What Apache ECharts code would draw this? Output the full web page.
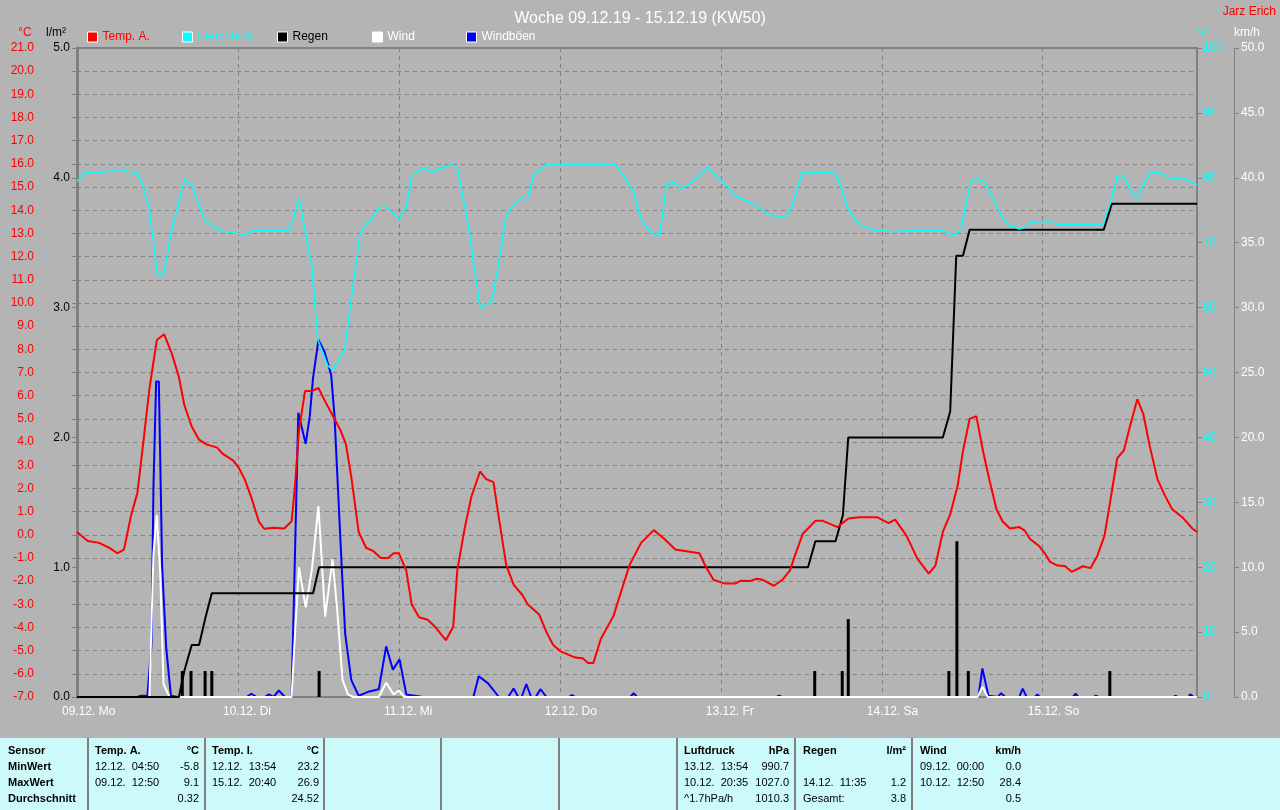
<!DOCTYPE html>
<html><head><meta charset="utf-8">
<script src="https://cdn.jsdelivr.net/npm/echarts@6/dist/echarts.min.js"></script>
<style>html,body{margin:0;padding:0;background:#b4b4b4;}#c{width:1280px;height:810px;}</style>
</head><body><div id="c"></div>
<script>
// ---------- data (hours since 09.12. 00:00) ----------
const dayLabels = ['09.12. Mo','10.12. Di','11.12. Mi','12.12. Do','13.12. Fr','14.12. Sa','15.12. So'];
const tempA = [[0,0.12],[1.6,-0.27],[3.3,-0.35],[4.9,-0.58],[6,-0.8],[7,-0.64],[8.1,0.88],[9,1.8],[9.8,3.76],[10.8,6.3],[11.9,8.4],[13,8.65],[14.1,7.85],[15.2,6.8],[16,5.6],[17.1,4.67],[18.2,4.1],[19.3,3.9],[20.9,3.76],[21.7,3.5],[23.3,3.2],[24.1,2.9],[25,2.4],[26,1.6],[27.1,0.58],[27.9,0.26],[29.3,0.3],[30.9,0.27],[32,0.58],[32.5,2.1],[33.1,4.5],[34,6.2],[35,6.2],[36,6.33],[37.1,5.7],[38.2,5.1],[39.3,4.5],[40.1,3.9],[40.9,2.5],[42,0.12],[43.1,-0.56],[44.2,-0.71],[45.3,-1.0],[46.4,-1.0],[47.2,-0.8],[48,-0.8],[49.1,-1.55],[49.9,-3.0],[51,-3.56],[52.3,-3.67],[53.4,-3.97],[55,-4.55],[56.1,-3.97],[56.7,-1.55],[57.8,0.27],[58.8,1.64],[60.1,2.73],[61,2.4],[62.1,2.27],[62.9,0.73],[64,-1.3],[65.1,-2.15],[66.4,-2.6],[67.2,-3.0],[68.9,-3.44],[70,-4.2],[71,-4.76],[72.1,-5.03],[74.3,-5.3],[75.4,-5.33],[76.2,-5.53],[77,-5.53],[78.1,-4.5],[80,-3.5],[81.3,-2.3],[82.4,-1.3],[84.1,-0.35],[86,0.2],[87.6,-0.18],[89.2,-0.64],[90.9,-0.71],[92.8,-0.8],[93.8,-1.4],[94.9,-1.94],[96.5,-2.1],[98.2,-2.1],[99,-1.98],[100.3,-2.0],[101.4,-1.9],[102.2,-1.94],[103.9,-2.2],[105.2,-1.94],[106.3,-1.55],[107.1,-0.86],[108.2,0.03],[110.1,0.6],[111.2,0.6],[113.4,0.33],[115,0.7],[116.6,0.76],[119.3,0.76],[121,0.5],[122,0.65],[123.7,-0.05],[125.3,-1.03],[127,-1.68],[128,-1.33],[129.1,0.12],[130.2,0.88],[131.3,2.1],[132.1,3.6],[133.1,5.0],[134.1,5.12],[135.1,3.6],[136.1,2.3],[137.1,1.1],[138,0.58],[139.1,0.27],[140.5,0.33],[141.3,0.18],[142.1,-0.18],[143.5,-0.5],[144.3,-0.8],[145.1,-1.17],[146.2,-1.33],[147.3,-1.35],[148.3,-1.6],[150,-1.36],[151.1,-1.44],[152.1,-0.94],[153.2,-0.05],[154,1.33],[155.1,3.3],[156.1,3.64],[157,4.67],[158.1,5.85],[159,5.2],[159.9,3.9],[161.1,2.4],[162.2,1.7],[163.3,1.1],[164.9,0.73],[166.3,0.27],[167,0.12]];
const feuchteA = [[0,79.4],[1.1,80.8],[3.8,80.8],[6,81.3],[7.6,81],[9,80.8],[9.8,78.9],[10.8,75.1],[12,65.1],[12.9,65.1],[14.1,71.8],[16,79.8],[17.1,78.9],[19,73.5],[21.1,71.9],[23.9,71.4],[25.1,71.3],[26.3,71.9],[31.7,71.9],[33.1,76.8],[35,66.4],[35.9,55.1],[37.4,51],[38.2,50.5],[39.9,53.5],[41.2,63.7],[42.2,71.3],[43.1,72.9],[43.9,73.6],[45,75.4],[46.1,75.5],[48,73.6],[49.1,75.6],[49.9,80.2],[51.5,81.5],[53,80.9],[54.5,81.7],[55.9,82],[56.7,81.6],[58.3,72.9],[60.1,59.9],[61.9,61.1],[62.9,67],[64,74.3],[65.9,76.7],[67.1,76.7],[68.1,80.4],[70,82],[80.3,82],[81.9,79.7],[83,77.8],[84.1,73.7],[85.2,71.9],[86,71.3],[86.9,71.3],[87.9,78.9],[89,79.4],[90,78.3],[91.1,78.9],[92.5,79.9],[94,81.7],[95.5,80.2],[96.8,78.9],[98.2,77.2],[100.9,75.9],[102.8,74.6],[104.1,73.9],[105.2,74],[106.2,74.5],[107.1,77.2],[108.1,80.8],[112.5,80.8],[113.4,80.2],[115,75.1],[116.3,73.2],[118.8,71.9],[122,71.7],[123.7,71.9],[129.1,71.9],[131,71.1],[131.9,72.4],[133.2,79.4],[134.2,79.9],[135.3,79.4],[136.7,76.7],[138,73.7],[139.1,72.6],[140.5,72.1],[141.3,72.3],[142.1,73.1],[144.3,73.3],[145.9,72.9],[148.6,72.8],[153,72.9],[154.1,76.2],[155.1,80.2],[155.9,80.4],[157,78.3],[158,76.7],[159,78.9],[160.1,80.8],[161.4,80.8],[162.7,80.1],[163.8,79.8],[164.9,80],[166,79.4],[167,78.9]];
const regenSumme = [[0,0],[15.2,0],[16,0.2],[17.1,0.4],[18.2,0.4],[19.1,0.6],[20.1,0.8],[35.2,0.8],[36.1,1.0],[109,1.0],[110.1,1.2],[113.1,1.2],[114.2,1.4],[115,2.0],[129.1,2.0],[130.2,2.2],[131.1,3.4],[132.1,3.4],[133.1,3.6],[153.1,3.6],[154.3,3.8],[167,3.8]];
const regenBalken = [[15.7,0.2],[17,0.2],[19.1,0.2],[20.1,0.2],[36.1,0.2],[110,0.2],[114.1,0.2],[115,0.6],[130,0.2],[131.2,1.2],[132.9,0.2],[154,0.2]];
const wind = [[0,0],[10.8,0],[11.4,11],[11.9,14],[12.4,9.7],[12.9,1],[13.8,0],[32,0],[32.5,4.8],[33.1,10],[34.1,6.9],[35,9.7],[36,14.7],[37,6.2],[38.1,10.6],[38.8,6.7],[39.6,1.3],[40.4,0.2],[41.2,0],[45,0],[46.1,1.1],[47.2,0.2],[48,0.5],[48.8,0],[134.3,0],[135,0.8],[135.8,0],[167,0]];
const windboeen = [[0,0],[9,0],[9.5,0.1],[10.5,0.1],[11.1,4],[11.4,16.2],[11.8,24.3],[12.2,24.3],[12.4,18.6],[12.7,10],[13.3,3.8],[14,0.1],[15,0],[25.3,0],[26,0.25],[26.8,0],[28,0],[28.6,0.2],[29.3,0],[30.1,0.5],[31,0],[32,0],[32.5,11],[33,21.9],[34.1,19.5],[34.7,21.6],[35.2,24.6],[36,27.5],[36.9,26.6],[37.9,24.8],[38.4,21.6],[38.9,16.2],[39.5,9.7],[40,4.8],[40.9,1.3],[42,0.1],[43.4,0.4],[45,0.6],[46.1,3.9],[47.1,2.1],[48.1,2.9],[49.1,0.2],[50.4,0.1],[51.5,0],[59.1,0],[59.9,1.6],[61.3,1.05],[62.9,0],[64.3,0],[65.1,0.65],[65.8,0],[66.3,0],[67,1],[67.7,0],[68.4,0],[69.1,0.6],[70,0],[73.3,0],[73.8,0.15],[74.3,0],[82.5,0],[83,0.3],[83.5,0],[104.3,0],[104.7,0.1],[105.1,0],[134.4,0],[135,2.2],[135.9,0.1],[137.3,0],[137.8,0.3],[138.4,0],[140.5,0],[141,0.65],[141.6,0],[142.8,0],[143.2,0.2],[143.6,0],[148.5,0],[148.9,0.25],[149.3,0],[151.6,0],[151.9,0.1],[152.3,0],[163.5,0],[163.8,0.1],[164.1,0],[165.7,0],[166,0.2],[166.5,0],[167,0]];

// ---------- statistics table texts ----------
const rowLabels = ['Sensor','MinWert','MaxWert','Durchschnitt'];
const tableCols = [
  {x0:95, x1:199, head:['Temp. A.','°C'], rows:[['12.12.  04:50','-5.8'],['09.12.  12:50','9.1'],['','0.32']]},
  {x0:212, x1:319, head:['Temp. I.','°C'], rows:[['12.12.  13:54','23.2'],['15.12.  20:40','26.9'],['','24.52']]},
  {x0:684, x1:789, head:['Luftdruck','hPa'], rows:[['13.12.  13:54','990.7'],['10.12.  20:35','1027.0'],['^1.7hPa/h','1010.3']]},
  {x0:803, x1:906, head:['Regen','l/m²'], rows:[['',''],['14.12.  11:35','1.2'],['Gesamt:','3.8']]},
  {x0:920, x1:1021, head:['Wind','km/h'], rows:[['09.12.  00:00','0.0'],['10.12.  12:50','28.4'],['','0.5']]}
];
const tableSeps = [88,205,324,441,559,677,795,912];

// ---------- chart ----------
const GRID = '#808080';
const FONT = '"Liberation Sans", Arial, sans-serif';
const NARROW = '"Liberation Sans Narrow", "Arial Narrow", "Liberation Sans", sans-serif';
const chart = echarts.init(document.getElementById('c'), null, {renderer:'canvas'});

const rowY = [751,767,783,799];
const graphics = [
  {type:'rect', shape:{x:0,y:738,width:1280,height:72}, style:{fill:'#ccf9f9'}},
  {type:'text', style:{text:'°C', x:25, y:33, fill:'#ff0000', font:'12px '+FONT, align:'center', verticalAlign:'middle'}},
  {type:'text', style:{text:'l/m²', x:66, y:33, fill:'#000000', font:'12px '+FONT, align:'right', verticalAlign:'middle'}},
  {type:'text', style:{text:'%', x:1198, y:33, fill:'#00ffff', font:'12px '+FONT, align:'left', verticalAlign:'middle'}},
  {type:'text', style:{text:'km/h', x:1234, y:33, fill:'#ffffff', font:'12px '+FONT, align:'left', verticalAlign:'middle'}},
  {type:'text', style:{text:'Jarz Erich', x:1276, y:12, fill:'#ff0000', font:'12px '+FONT, align:'right', verticalAlign:'middle'}}
];
tableSeps.forEach(x => graphics.push({type:'line', shape:{x1:x,y1:738,x2:x,y2:810}, style:{stroke:GRID, lineWidth:2}}));
rowLabels.forEach((t,i) => graphics.push({type:'text', style:{text:t, x:8, y:rowY[i], fill:'#000', font:'bold 11px '+FONT, verticalAlign:'middle'}}));
tableCols.forEach(c => {
  graphics.push({type:'text', style:{text:c.head[0], x:c.x0, y:rowY[0], fill:'#000', font:'bold 11px '+FONT, verticalAlign:'middle'}});
  graphics.push({type:'text', style:{text:c.head[1], x:c.x1, y:rowY[0], fill:'#000', font:'bold 11px '+FONT, align:'right', verticalAlign:'middle'}});
  c.rows.forEach((r,i) => {
    graphics.push({type:'text', style:{text:r[0], x:c.x0, y:rowY[i+1], fill:'#000', font:'11px '+NARROW, verticalAlign:'middle'}});
    graphics.push({type:'text', style:{text:r[1], x:c.x1, y:rowY[i+1], fill:'#000', font:'11px '+NARROW, align:'right', verticalAlign:'middle'}});
  });
});

const legendDefs = [
  {name:'Temp. A.', left:87, color:'#ff0000'},
  {name:'Feuchte A.', left:182, color:'#00ffff'},
  {name:'Regen', left:277, color:'#000000'},
  {name:'Wind', left:372, color:'#ffffff'},
  {name:'Windböen', left:466, color:'#ffffff'}
];
const legends = legendDefs.map(l => ({
  data:[l.name], left:l.left, top:31, padding:0, itemWidth:10, itemHeight:10, itemGap:4,
  icon:'rect', itemStyle:{borderColor:'#ffffff', borderWidth:1},
  textStyle:{color:l.color, fontSize:12, fontFamily:FONT, padding:[0,0,0,0]}
}));

const dashed = {show:true, lineStyle:{color:GRID, type:[4,4], width:1}};

chart.setOption({
  animation:false,
  backgroundColor:'#b4b4b4',
  title:{text:'Woche 09.12.19 - 15.12.19 (KW50)', left:'center', top:6,
    textStyle:{color:'#ffffff', fontSize:16, fontWeight:'normal', fontFamily:FONT}},
  legend: legends,
  grid:{left:77, right:83, top:48, bottom:113, show:true, borderColor:GRID, borderWidth:2, backgroundColor:'transparent'},
  xAxis:{type:'value', min:0, max:167, interval:24,
    axisLine:{show:false}, axisTick:{show:false}, splitLine:dashed,
    axisLabel:{color:'#ffffff', fontSize:12, fontFamily:FONT, margin:9, align:'left', padding:[0,0,0,-15], showMaxLabel:false,
      formatter: v => (v % 24 === 0 && v/24 < dayLabels.length) ? dayLabels[v/24] : ''}},
  yAxis:[
    {type:'value', position:'left', offset:36, min:-7, max:21, interval:1,
      axisLine:{show:true, lineStyle:{color:GRID, width:1}}, axisTick:{show:true, length:5, lineStyle:{color:GRID}},
      axisLabel:{color:'#ff0000', fontSize:12, fontFamily:FONT, margin:7, formatter:v=>v.toFixed(1)},
      splitLine:dashed},
    {type:'value', position:'left', offset:0, min:0, max:5, interval:1,
      axisLine:{show:true, lineStyle:{color:GRID, width:3}}, axisTick:{show:true, length:5, lineStyle:{color:GRID}},
      axisLabel:{color:'#000000', fontSize:12, fontFamily:FONT, margin:7, formatter:v=>v.toFixed(1)},
      splitLine:{show:false}},
    {type:'value', position:'right', offset:0, min:0, max:100, interval:10,
      axisLine:{show:true, lineStyle:{color:GRID, width:2}}, axisTick:{show:true, length:5, lineStyle:{color:GRID}},
      axisLabel:{color:'#00ffff', fontSize:12, fontFamily:FONT, margin:6, formatter:v=>String(v)},
      splitLine:{show:false}},
    {type:'value', position:'right', offset:37, min:0, max:50, interval:5,
      axisLine:{show:true, lineStyle:{color:GRID, width:1}}, axisTick:{show:true, length:5, lineStyle:{color:GRID}},
      axisLabel:{color:'#ffffff', fontSize:12, fontFamily:FONT, margin:7, formatter:v=>v.toFixed(1)},
      splitLine:{show:false}}
  ],
  series:[
    {name:'Windböen', type:'line', yAxisIndex:3, data:windboeen, symbol:'none', color:'#0000ff', lineStyle:{width:2, color:'#0000ff'}},
    {name:'Wind', type:'line', yAxisIndex:3, data:wind, symbol:'none', color:'#ffffff', lineStyle:{width:2, color:'#ffffff'}},
    {name:'Regen', type:'bar', yAxisIndex:1, data:regenBalken, barWidth:3, color:'#000000', itemStyle:{color:'#000000'}},
    {name:'Regen', type:'line', yAxisIndex:1, data:regenSumme, symbol:'none', color:'#000000', lineStyle:{width:2, color:'#000000'}},
    {name:'Feuchte A.', type:'line', yAxisIndex:2, data:feuchteA, symbol:'none', color:'#00ffff', lineStyle:{width:1.5, color:'#00ffff'}},
    {name:'Temp. A.', type:'line', yAxisIndex:0, data:tempA, symbol:'none', color:'#ff0000', lineStyle:{width:2, color:'#ff0000'}}
  ],
  graphic: graphics
});
</script></body></html>
